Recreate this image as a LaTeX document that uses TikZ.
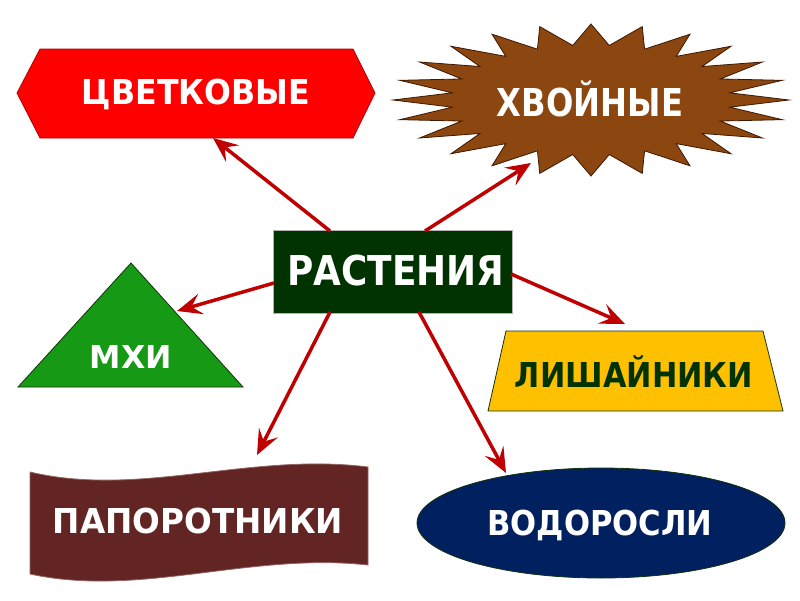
\documentclass[tikz,border=0pt]{standalone}
\usepackage{fontspec}
\setmainfont{DejaVu Sans}
\usetikzlibrary{arrows.meta}
\definecolor{hexred}{RGB}{255,0,0}
\definecolor{hexedge}{RGB}{180,0,0}
\definecolor{brownfill}{RGB}{140,70,16}
\definecolor{brownedge}{RGB}{60,25,0}
\definecolor{rootgreen}{RGB}{0,51,0}
\definecolor{trigreen}{RGB}{22,154,22}
\definecolor{trapyellow}{RGB}{255,192,0}
\definecolor{darkedge}{RGB}{20,50,10}
\definecolor{bannerred}{RGB}{99,37,35}
\definecolor{navyfill}{RGB}{0,32,96}
\definecolor{arrowred}{RGB}{192,0,0}
\newcommand{\capbox}[3]{\resizebox{#1pt}{#2pt}{\rule{0pt}{0.729em}\smash{#3}}}
\begin{document}
\begin{tikzpicture}[x=1pt,y=-1pt,
  lbl/.style={text=white,font=\bfseries,inner sep=0pt},
  arr/.style={draw=arrowred,line width=3.5pt,-{Stealth[length=25pt,width=21pt,inset=10pt]}},
  shapeedge/.style={line width=0.8pt}]
\useasboundingbox (0,0) rectangle (800,600);
% hexagon
\filldraw[fill=hexred,draw=hexedge,shapeedge] (17,93) -- (40,49) -- (353,49) -- (375,93) -- (353,138) -- (40,138) -- cycle;
\node[lbl] (cv) at (196,92) {\capbox{228}{25}{ЦВЕТКОВЫЕ}};
% starburst
\filldraw[fill=brownfill,draw=brownedge,shapeedge] ({591+198},100)
  \foreach \i in {0,...,23} { -- ({591+140*cos(\i*15+7.5)},{100+55*sin(\i*15+7.5)}) -- ({591+198*cos(\i*15+15)},{100+76*sin(\i*15+15)}) } -- cycle;
\node[lbl] (xv) at (590,102) {\capbox{186}{28}{ХВОЙНЫЕ}};
% root
\node[lbl,fill=rootgreen,draw=gray!60,line width=0.6pt,minimum width=239pt,minimum height=83pt] (ra) at (392.5,271.5) {};
\node[lbl] at (396,270) {\capbox{217}{30}{РАСТЕНИЯ}};
% triangle
\filldraw[fill=trigreen,draw=darkedge,shapeedge] (131,263) -- (243,387) -- (18,387) -- cycle;
\node[lbl] (mx) at (131,357) {\capbox{82}{23}{МХИ}};
% trapezoid
\filldraw[fill=trapyellow,draw=darkedge,shapeedge] (506,331) -- (763,331) -- (783,411) -- (488,411) -- cycle;
\node[lbl,text=rootgreen] (li) at (634,375) {\capbox{238}{25}{ЛИШАЙНИКИ}};
% banner
\filldraw[fill=bannerred,draw=bannerred!70!white,shapeedge] (30,472) .. controls (140,498) and (250,452) .. (368,467) -- (368,565) .. controls (250,552) and (140,598) .. (30,574) -- cycle;
\node[lbl] (pa) at (198,521) {\capbox{290}{25}{ПАПОРОТНИКИ}};
% ellipse
\filldraw[fill=navyfill,draw=darkedge,shapeedge] (601,523) ellipse [x radius=184, y radius=55];
\node[lbl] (vo) at (600,523) {\capbox{225}{25}{ВОДОРОСЛИ}};
% arrow coordinates
\coordinate (s1) at (330,231);
\coordinate (t1) at (213,138);
\coordinate (s2) at (425,231);
\coordinate (t2) at (531,163);
\coordinate (s3) at (274,283);
\coordinate (t3) at (177,311);
\coordinate (s4) at (511,274);
\coordinate (t4) at (625,324);
\coordinate (s5) at (330,312);
\coordinate (t5) at (257,455);
\coordinate (s6) at (419,312);
\coordinate (t6) at (506,473);
\draw[arr] (s1) -- (t1);
\draw[arr] (s2) -- (t2);
\draw[arr] (s3) -- (t3);
\draw[arr] (s4) -- (t4);
\draw[arr] (s5) -- (t5);
\draw[arr] (s6) -- (t6);
\end{tikzpicture}
\end{document}
